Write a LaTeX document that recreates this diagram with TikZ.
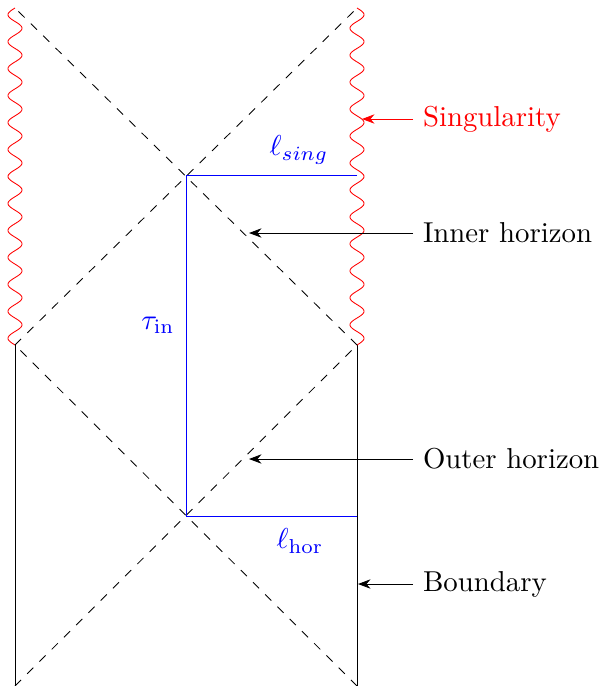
\documentclass[tikz,border=0pt]{standalone}
\usetikzlibrary{arrows.meta}
\begin{document}
\begin{tikzpicture}[x=0.3472pt,y=-0.3472pt,line width=0.3pt,
  horizon/.style={dashed},
  wavy/.style={red},
  bluel/.style={blue},
  lab/.style={anchor=west},
  pointer/.style={-{Stealth}}]
\useasboundingbox (0,0) rectangle (601,686);
\coordinate (BL) at (15,686);
\coordinate (BR) at (357,686);
\coordinate (ML) at (15,345);
\coordinate (MR) at (357,345);
\coordinate (TL) at (15,8);
\coordinate (TR) at (357,8);
\coordinate (C1) at (186,516);
\coordinate (C2) at (186,175);
\coordinate (S2) at (357,175);
\coordinate (S1) at (357,516);
% boundaries
\draw (BL) -- (ML);
\draw (BR) -- (MR);
% singularities
\draw[wavy] plot[domain=345:8,samples=500,smooth] ({15+7*sin(13.353*(\x-345))},\x);
\draw[wavy] plot[domain=345:8,samples=500,smooth] ({357-7*sin(13.353*(\x-345))},\x);
% horizons
\draw[horizon] (BL) -- (MR);
\draw[horizon] (BR) -- (ML);
\draw[horizon] (ML) -- (TR);
\draw[horizon] (MR) -- (TL);
% blue segments
\draw[bluel] (S2) -- (C2) -- (C1) -- (S1);
\node[blue] (lsing) at (299,150) {$\ell_{sing}$};
\node[blue] (tau) at (158,325) {$\tau_{\rm in}$};
\node[blue] (lhor) at (300,541) {$\ell_{\rm hor}$};
% labels
\coordinate (psing) at (362,119);
\coordinate (pinner) at (249,233);
\coordinate (pouter) at (249,459);
\coordinate (pbound) at (358,584);
\node[lab,red] (sing) at (413,119) {Singularity};
\node[lab] (inner) at (413,233) {Inner horizon};
\node[lab] (outer) at (413,459) {Outer horizon};
\node[lab] (bound) at (413,584) {Boundary};
\draw[pointer,red] (sing.west) -- (psing);
\draw[pointer] (inner.west) -- (pinner);
\draw[pointer] (outer.west) -- (pouter);
\draw[pointer] (bound.west) -- (pbound);
\end{tikzpicture}
\end{document}
